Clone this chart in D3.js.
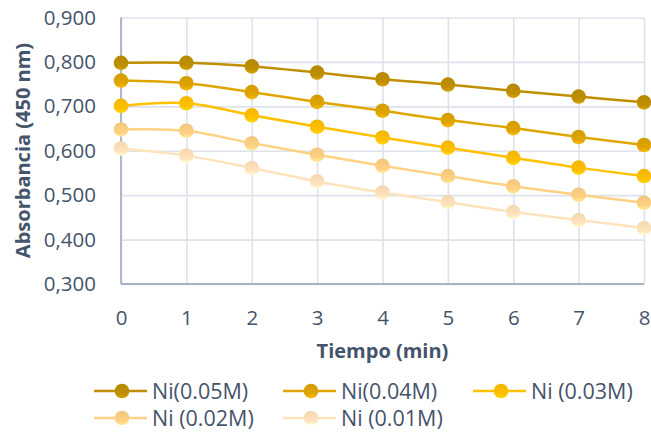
<!DOCTYPE html>
<html>
<head>
<meta charset="utf-8">
<script src="https://cdn.jsdelivr.net/npm/d3@7"></script>
<style>
  html, body { margin: 0; padding: 0; background: #fff; }
  svg { display: block; font-family: "Open Sans", "Liberation Sans", sans-serif; }
</style>
</head>
<body>
<svg id="chart" width="651" height="433"></svg>
<script>
// Time points (min)
const tiempos = [0, 1, 2, 3, 4, 5, 6, 7, 8];

// Absorbance at 450 nm for each Ni concentration
const ni005 = [0.798, 0.798, 0.790, 0.776, 0.761, 0.749, 0.735, 0.722, 0.709];
const ni004 = [0.758, 0.752, 0.732, 0.710, 0.690, 0.669, 0.651, 0.631, 0.613];
const ni003 = [0.701, 0.707, 0.680, 0.654, 0.630, 0.607, 0.584, 0.562, 0.543];
const ni002 = [0.648, 0.645, 0.617, 0.591, 0.566, 0.543, 0.520, 0.501, 0.483];
const ni001 = [0.605, 0.589, 0.561, 0.531, 0.506, 0.484, 0.462, 0.444, 0.426];

const seriesNames = ["Ni(0.05M)", "Ni(0.04M)", "Ni (0.03M)", "Ni (0.02M)", "Ni (0.01M)"];
const seriesValues = [ni005, ni004, ni003, ni002, ni001];
const seriesColors = ["#BF8F00", "#DFA500", "#FFC000", "#FFD183", "#FFE3BC"];

const yTicks = [0.3, 0.4, 0.5, 0.6, 0.7, 0.8, 0.9];
const xTitle = "Tiempo (min)";
const yTitle = "Absorbancia (450 nm)";

const svg = d3.select("#chart");
const W = 651, H = 433;
const m = { left: 121, right: 7, top: 17.5, bottom: 149 };
const iw = W - m.left - m.right;
const ih = H - m.top - m.bottom;
const textColor = "#44546A";

const x = d3.scaleLinear().domain([0, 8]).range([m.left, m.left + iw]);
const y = d3.scaleLinear().domain([0.3, 0.9]).range([m.top + ih, m.top]);

// Marker shading
const defs = svg.append("defs");
seriesColors.forEach((c, i) => {
  const g = defs.append("linearGradient")
    .attr("id", "mk" + i).attr("x1", 0).attr("y1", 0).attr("x2", 0).attr("y2", 1);
  g.append("stop").attr("offset", "0%").attr("stop-color", d3.color(c).darker(0.15));
  g.append("stop").attr("offset", "70%").attr("stop-color", c);
  g.append("stop").attr("offset", "100%").attr("stop-color", d3.color(c).brighter(0.35));
});

// Horizontal gridlines
svg.append("g")
  .attr("transform", `translate(${m.left},0)`)
  .call(d3.axisLeft(y).tickValues(yTicks).tickSize(-iw).tickFormat(""))
  .call(g => g.select(".domain").remove())
  .call(g => g.selectAll("line").attr("stroke", "#DEE2EA").attr("stroke-width", 1.6));

// Vertical gridlines
svg.append("g")
  .attr("transform", `translate(0,${m.top + ih})`)
  .call(d3.axisBottom(x).tickValues(tiempos).tickSize(-ih).tickFormat(""))
  .call(g => g.select(".domain").remove())
  .call(g => g.selectAll("line").attr("stroke", "#DEE2EA").attr("stroke-width", 1.6));

// Axis lines
svg.append("line")
  .attr("x1", x(0)).attr("x2", x(0)).attr("y1", y(0.9)).attr("y2", y(0.3))
  .attr("stroke", "#A9B3C5").attr("stroke-width", 1.8);
svg.append("line")
  .attr("x1", x(0)).attr("x2", x(8)).attr("y1", y(0.3)).attr("y2", y(0.3))
  .attr("stroke", "#A9B3C5").attr("stroke-width", 1.8);

// Tick labels
const fmt = v => d3.format(".3f")(v).replace(".", ",");
svg.append("g")
  .attr("transform", `translate(${m.left},0)`)
  .call(d3.axisLeft(y).tickValues(yTicks).tickSize(0).tickPadding(25).tickFormat(fmt))
  .call(g => g.select(".domain").remove())
  .call(g => g.selectAll("text")
    .attr("fill", textColor).style("font-size", "20.5px")
    .style("font-family", "\"Open Sans\", sans-serif"));

svg.append("g")
  .attr("transform", `translate(0,${m.top + ih})`)
  .call(d3.axisBottom(x).tickValues(tiempos).tickSize(0).tickPadding(26).tickFormat(d3.format("d")))
  .call(g => g.select(".domain").remove())
  .call(g => g.selectAll("text")
    .attr("fill", textColor).style("font-size", "20.5px")
    .style("font-family", "\"Open Sans\", sans-serif"));

// Axis titles
svg.append("text")
  .attr("x", x(4)).attr("y", 358)
  .attr("text-anchor", "middle")
  .attr("fill", textColor).attr("font-weight", "bold").style("font-size", "20px")
  .text(xTitle);

svg.append("text")
  .attr("transform", `translate(30,${(43 + 258) / 2}) rotate(-90)`)
  .attr("text-anchor", "middle")
  .attr("fill", textColor).attr("font-weight", "bold").style("font-size", "20px")
  .text(yTitle);

// Series lines and markers (draw lightest first so darker ones sit on top)
const line = d3.line()
  .x((d, i) => x(tiempos[i]))
  .y(d => y(d))
  .curve(d3.curveCatmullRom.alpha(0));

const order = [4, 3, 2, 1, 0];
order.forEach(si => {
  const vals = seriesValues[si];
  const g = svg.append("g");
  g.append("path")
    .datum(vals)
    .attr("d", line)
    .attr("fill", "none")
    .attr("stroke", seriesColors[si])
    .attr("stroke-width", 2.5);
  g.selectAll("circle")
    .data(vals)
    .join("circle")
    .attr("cx", (d, i) => x(tiempos[i]))
    .attr("cy", d => y(d))
    .attr("r", 7.3)
    .attr("fill", `url(#mk${si})`);
});

// Legend
const legendPos = [
  { lx: 94, ly: 391 }, { lx: 283, ly: 391 }, { lx: 473, ly: 391 },
  { lx: 94, ly: 418 }, { lx: 283, ly: 418 }
];
seriesNames.forEach((name, si) => {
  const p = legendPos[si];
  const g = svg.append("g").attr("transform", `translate(${p.lx},${p.ly})`);
  g.append("line").attr("x1", 0).attr("x2", 53).attr("y1", 0).attr("y2", 0)
    .attr("stroke", seriesColors[si]).attr("stroke-width", 2.5);
  g.append("circle").attr("cx", 28).attr("cy", 0).attr("r", 7.3)
    .attr("fill", `url(#mk${si})`);
  g.append("text").attr("x", 58).attr("y", 0).attr("dy", "0.36em")
    .attr("fill", textColor).style("font-size", "21.5px")
    .text(name);
});
</script>
</body>
</html>
